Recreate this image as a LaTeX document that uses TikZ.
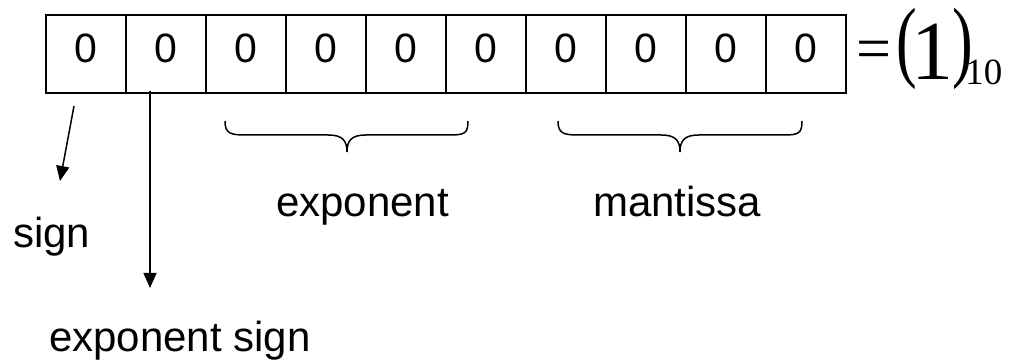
\documentclass[tikz,border=0pt]{standalone}
\usepackage{graphicx}
\usepackage{fontspec}
\setmainfont{Liberation Sans}
\newfontfamily\eqfont{Liberation Serif}
\usetikzlibrary{arrows.meta}
\begin{document}
\begin{tikzpicture}[x=1pt,y=-1pt,
  cell/.style={draw, line width=2pt, minimum width=80pt, minimum height=78pt, inner sep=0pt, text depth=0pt},
  digit/.style={inner sep=0pt, anchor=base, font=\fontsize{41}{41}\selectfont},
  lbl/.style={inner sep=0pt, anchor=base west, font=\fontsize{42}{42}\selectfont},
  eq/.style={inner sep=0pt, anchor=base west},
  arr/.style={line width=1.5pt, -{Triangle[length=15pt,width=13pt]}},
  brace/.style={line width=1.5pt}]
\useasboundingbox (0,0) rectangle (1015,363);
\foreach \i in {0,...,9} {
  \node[cell] (c\i) at (85.5+80*\i, 54) {};
  \node[digit] (d\i) at (85.5+80*\i, 63) {0};
}
% equation
\node[eq, font=\eqfont\fontsize{62}{62}\selectfont] (eqn) at (856,70)
  {=\kern5pt\raisebox{-1pt}{\scalebox{1}[1.45]{(}}\kern-5pt%
   {\fontsize{84}{84}\selectfont\raisebox{-10pt}{1}}\kern-1pt%
   \raisebox{-1pt}{\scalebox{1}[1.45]{)}}\kern-8pt%
   {\fontsize{37}{37}\selectfont\raisebox{-15pt}{10}}};
% labels
\node[lbl] (sign) at (13,248) {sign};
\node[lbl] (expo) at (276,217) {exponent};
\node[lbl] (mant) at (593,217) {mantissa};
\node[lbl] (esign) at (49,352) {exponent sign};
% arrows
\coordinate (s0) at (74,106);
\coordinate (s1) at (60,181);
\coordinate (e0) at (150,91);
\coordinate (e1) at (150,288);
\draw[arr] (s0) -- (s1);
\draw[arr] (e0) -- (e1);
% braces
\draw[brace] (225,121) .. controls (225,133) and (230,135) .. (245,135) -- (328,135)
  .. controls (342,135) and (347,140) .. (347,152)
  .. controls (347,140) and (352,135) .. (366,135) -- (450,135)
  .. controls (465,135) and (468,133) .. (468,121);
\draw[brace] (558,121) .. controls (558,133) and (563,135) .. (578,135) -- (661,135)
  .. controls (675,135) and (680,140) .. (680,152)
  .. controls (680,140) and (685,135) .. (699,135) -- (784,135)
  .. controls (799,135) and (802,133) .. (802,121);
\end{tikzpicture}
\end{document}
